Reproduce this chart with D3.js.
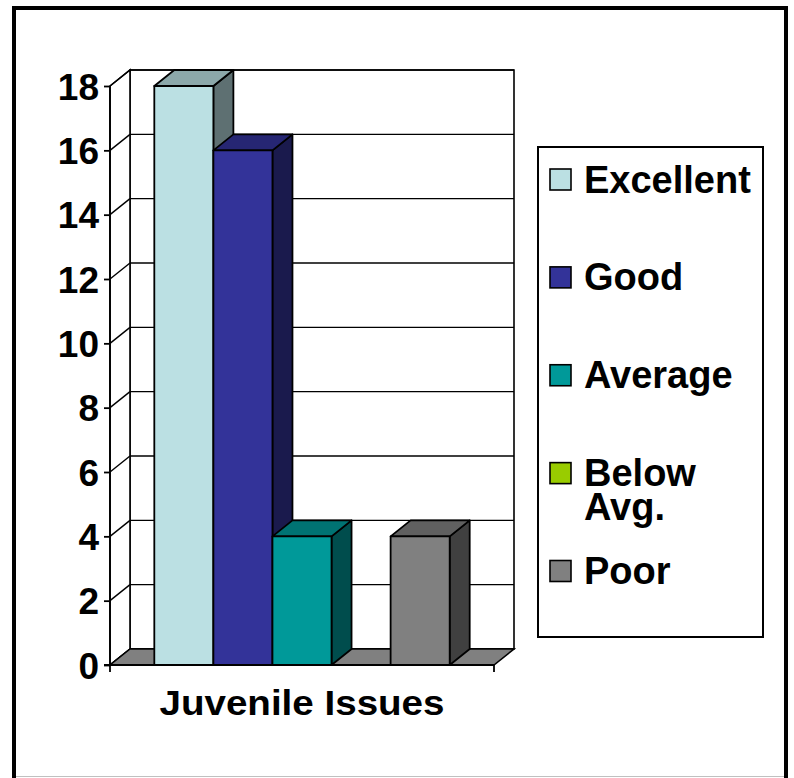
<!DOCTYPE html>
<html>
<head>
<meta charset="utf-8">
<script src="https://cdn.jsdelivr.net/npm/d3@7"></script>
<style>
  html, body { margin: 0; padding: 0; background: #fff; }
  svg { display: block; }
  text { font-family: "Liberation Sans", Arial, sans-serif; font-weight: bold; fill: #000; }
</style>
</head>
<body>
<svg id="chart" width="794" height="778"></svg>
<script>
// ---- data ----
const categories = ["Juvenile Issues"];
const seriesNames = ["Excellent", "Good", "Average", "Below Avg.", "Poor"];
const seriesValues = [18, 16, 4, 0, 4];
const seriesColors = ["#BBE0E3", "#333399", "#009999", "#99CC00", "#808080"];
const yTickValues = [0, 2, 4, 6, 8, 10, 12, 14, 16, 18];

// ---- layout ----
const svg = d3.select("#chart");
const plot = { left: 110, right: 494, top: 86, bottom: 665 };
const depth = { dx: 20, dy: -16 };

const y = d3.scaleLinear().domain([0, 18]).range([plot.bottom, plot.top]);
const xCat = d3.scaleBand().domain(categories).range([plot.left, plot.right]);
const xSer = d3.scaleBand().domain(seriesNames).range([0, xCat.bandwidth()])
  .paddingInner(0).paddingOuter(0.75);

function shade(c, k) {
  const r = d3.rgb(c);
  return d3.rgb(r.r * k, r.g * k, r.b * k).formatHex();
}
const poly = pts => "M" + pts.map(p => p.join(",")).join("L") + "Z";

// outer frame
svg.append("rect").attr("x", 14).attr("y", 8).attr("width", 772).attr("height", 800)
  .attr("fill", "#fff").attr("stroke", "#000").attr("stroke-width", 4);
svg.append("line").attr("x1", 16).attr("x2", 784).attr("y1", 776.5).attr("y2", 776.5)
  .attr("stroke", "#c0c0c0").attr("stroke-width", 1);

const g = svg.append("g");
const y0 = y(0), yTop = y(18);
const L = plot.left, R = plot.right, dx = depth.dx, dy = depth.dy;

// back wall
g.append("path").attr("d", poly([[L + dx, yTop + dy], [R + dx, yTop + dy], [R + dx, y0 + dy], [L + dx, y0 + dy]]))
  .attr("fill", "#fff").attr("stroke", "#000").attr("stroke-width", 1.6);
// side wall
g.append("path").attr("d", poly([[L, yTop], [L + dx, yTop + dy], [L + dx, y0 + dy], [L, y0]]))
  .attr("fill", "#fff").attr("stroke", "#000").attr("stroke-width", 1.6);

// gridlines on back and side wall
yTickValues.forEach(v => {
  const yy = y(v);
  g.append("line").attr("x1", L + dx).attr("x2", R + dx).attr("y1", yy + dy).attr("y2", yy + dy)
    .attr("stroke", "#000").attr("stroke-width", 1.4);
  g.append("line").attr("x1", L).attr("x2", L + dx).attr("y1", yy).attr("y2", yy + dy)
    .attr("stroke", "#000").attr("stroke-width", 1.4);
});

// floor
g.append("path").attr("d", poly([[L, y0], [R, y0], [R + dx, y0 + dy], [L + dx, y0 + dy]]))
  .attr("fill", "#808080").attr("stroke", "#000").attr("stroke-width", 1.6);

// bars
seriesNames.forEach((name, i) => {
  const v = seriesValues[i];
  if (v <= 0) return;
  const x0 = xCat(categories[0]) + xSer(name);
  const x1 = x0 + xSer.bandwidth();
  const yt = y(v);
  const c = seriesColors[i];
  const bg = g.append("g").attr("stroke", "#000").attr("stroke-width", 1.8).attr("stroke-linejoin", "round");
  bg.append("path").attr("d", poly([[x1, yt], [x1 + dx, yt + dy], [x1 + dx, y0 + dy], [x1, y0]])).attr("fill", shade(c, 0.5));
  bg.append("path").attr("d", poly([[x0, yt], [x0 + dx, yt + dy], [x1 + dx, yt + dy], [x1, yt]])).attr("fill", shade(c, 0.75));
  bg.append("path").attr("d", poly([[x0, yt], [x1, yt], [x1, y0], [x0, y0]])).attr("fill", c);
});

// y axis (front)
const yAxis = d3.axisLeft(y).tickValues(yTickValues).tickSize(6).tickPadding(6).tickFormat(d3.format("d"));
const ya = svg.append("g").attr("transform", `translate(${L},0)`).call(yAxis);
ya.select(".domain").attr("stroke", "#000").attr("stroke-width", 1.8).attr("d", `M-6,${y0}H0V${yTop}`);
ya.selectAll(".tick line").attr("stroke", "#000").attr("stroke-width", 1.8);
ya.selectAll(".tick text").attr("font-size", 37).attr("font-family", "Liberation Sans, Arial, sans-serif")
  .attr("font-weight", "bold").attr("fill", "#000").attr("x", -11).attr("dy", "0.36em");

// x axis (front)
const xAxis = d3.axisBottom(xCat).tickSize(0).tickFormat("");
const xa = svg.append("g").attr("transform", `translate(0,${y0})`).call(xAxis);
xa.select(".domain").attr("stroke", "#000").attr("stroke-width", 1.8).attr("d", `M${L},7V0H${R}V7`);
svg.append("text").attr("x", xCat(categories[0]) + xCat.bandwidth() / 2).attr("y", 715)
  .attr("text-anchor", "middle").attr("font-size", 35)
  .attr("textLength", 285).attr("lengthAdjust", "spacingAndGlyphs")
  .text(categories[0]);

// legend
const leg = svg.append("g");
leg.append("rect").attr("x", 538).attr("y", 147).attr("width", 225).attr("height", 490)
  .attr("fill", "#fff").attr("stroke", "#000").attr("stroke-width", 2);
const legY = d3.scalePoint().domain(seriesNames).range([179.5, 571]);
seriesNames.forEach((name, i) => {
  const cy = legY(name);
  leg.append("rect").attr("x", 550).attr("y", cy - 10.5).attr("width", 21).attr("height", 21)
    .attr("fill", seriesColors[i]).attr("stroke", "#000").attr("stroke-width", 1.6);
  const parts = name === "Below Avg." ? ["Below", "Avg."] : [name];
  const t = leg.append("text").attr("x", 584).attr("y", cy + 13).attr("font-size", 38);
  parts.forEach((p, j) => {
    t.append("tspan").attr("x", 584).attr("dy", j === 0 ? 0 : 34).text(p);
  });
});
</script>
</body>
</html>
